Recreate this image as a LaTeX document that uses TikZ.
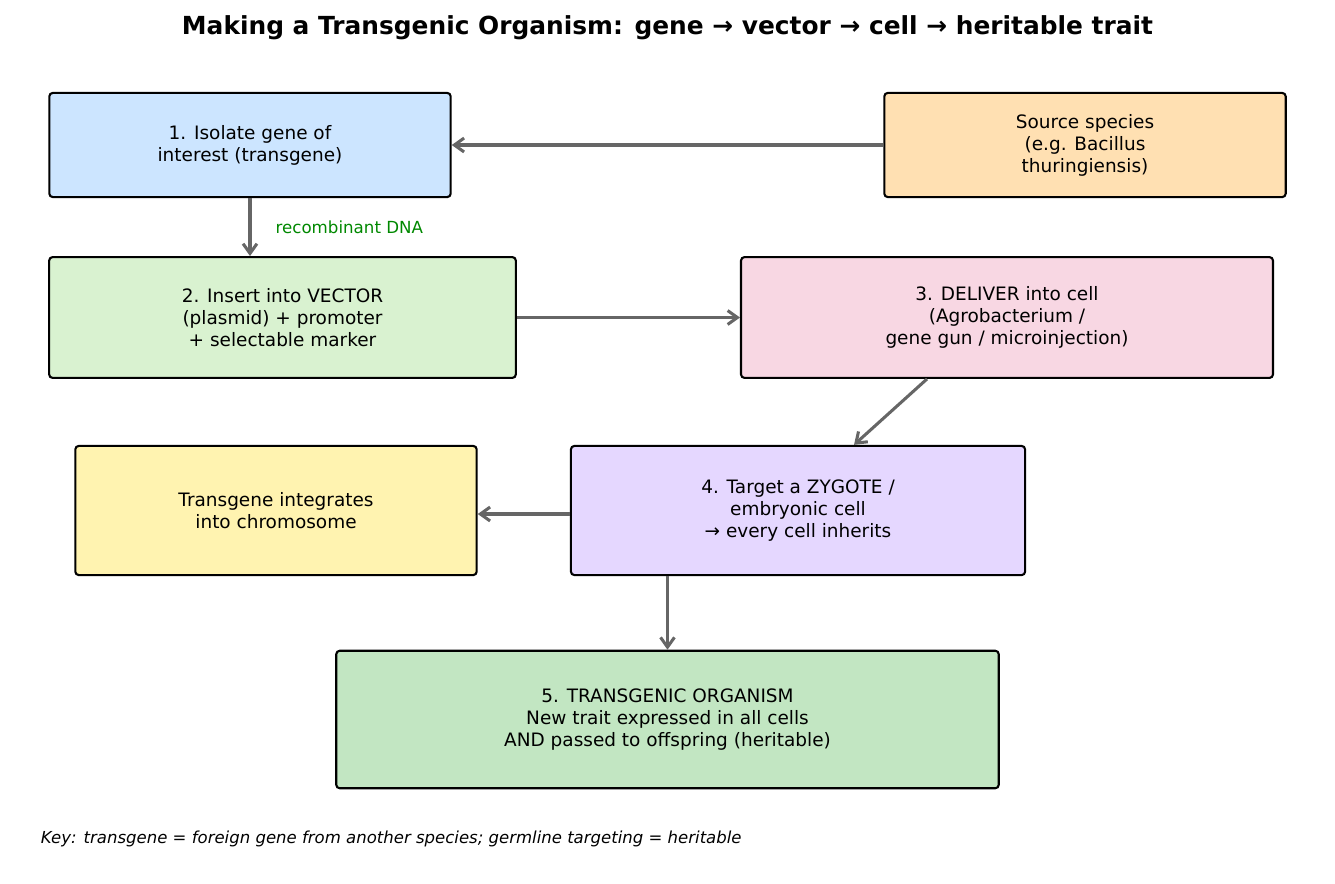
\documentclass[tikz,border=0pt]{standalone}
\usepackage{fontspec}
\setmainfont{DejaVu Sans}
\usepackage{xcolor}
\usetikzlibrary{arrows.meta}
\usetikzlibrary{positioning}

\definecolor{isoblue}{HTML}{CCE5FF}
\definecolor{srcorange}{HTML}{FFE0B2}
\definecolor{vecgreen}{HTML}{D9F2D0}
\definecolor{delpink}{HTML}{F8D7E3}
\definecolor{intyellow}{HTML}{FFF3B0}
\definecolor{zygpurple}{HTML}{E5D7FF}
\definecolor{orggreen}{HTML}{C2E6C2}
\definecolor{arrowgray}{HTML}{666666}
\definecolor{labelgreen}{HTML}{008800}

\tikzset{
	stagebox/.style={draw=black, line width=1.5pt, rounded corners=2.5pt, inner sep=0pt,
		align=center, font=\fontsize{13.3}{15.8}\selectfont},
	flow/.style={draw=arrowgray, line width=2.2pt, -{Straight Barb[length=7pt,width=10pt]}},
}

\begin{document}
\begin{tikzpicture}[x=0.72pt, y=-0.72pt]
	\useasboundingbox (0,0) rectangle (1335,883);

	\node[font=\fontsize{17.9}{21}\selectfont\bfseries] (title) at (667.5,28) {Making a Transgenic Organism: gene → vector → cell → heritable trait};

	\node[stagebox, fill=isoblue, minimum width=289pt, minimum height=75pt] (iso) at (250,145) {1. Isolate gene of\\interest (transgene)};
	\node[stagebox, fill=srcorange, minimum width=289pt, minimum height=75pt] (src) at (1085,145) {Source species\\(e.g. Bacillus\\thuringiensis)};
	\node[stagebox, fill=vecgreen, minimum width=336pt, minimum height=87pt] (vec) at (282.5,317.5) {2. Insert into VECTOR\\(plasmid) + promoter\\+ selectable marker};
	\node[stagebox, fill=delpink, minimum width=383pt, minimum height=87pt] (del) at (1007,317.5) {3. DELIVER into cell\\(Agrobacterium /\\gene gun / microinjection)};
	\node[stagebox, fill=intyellow, minimum width=289pt, minimum height=93pt] (int) at (276,510.5) {Transgene integrates\\into chromosome};
	\node[stagebox, fill=zygpurple, minimum width=327pt, minimum height=93pt] (zyg) at (798,510.5) {4. Target a ZYGOTE /\\embryonic cell\\→ every cell inherits};
	\node[stagebox, fill=orggreen, minimum width=477pt, minimum height=99pt] (org) at (667.5,719.5) {5. TRANSGENIC ORGANISM\\New trait expressed in all cells\\AND passed to offspring (heritable)};

	% arrows between the stages
	\draw[flow] (src.west) -- (iso.east);
	\draw[flow] (iso.south) -- (iso.south |- vec.north) node[pos=.5, right=14pt, text=labelgreen, font=\fontsize{12}{14}\selectfont] {recombinant DNA};
	\draw[flow] (vec.east) -- (del.west);
	\draw[flow] (del.south -| 927,0) -- (zyg.north -| 854,0);
	\draw[flow] (zyg.west |- 0,514) -- (int.east |- 0,514);
	\draw[flow] (org.north |- zyg.south) -- (org.north);

	\node[anchor=west, font=\fontsize{11.9}{14}\selectfont\itshape] (key) at (36,839) {Key: transgene = foreign gene from another species; germline targeting = heritable};
\end{tikzpicture}
\end{document}
